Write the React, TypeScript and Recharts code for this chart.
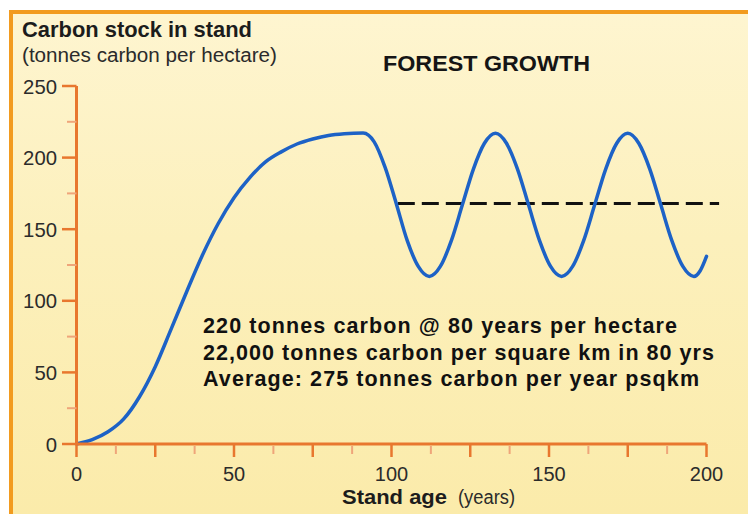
import React from 'react';
import { LineChart, Line, XAxis, YAxis, ReferenceLine } from 'recharts';

const ages = [0, 5, 10, 15, 20, 25, 30, 35, 40, 45, 50, 55, 60, 65, 70, 75, 80, 85,
  91, 94.5, 98, 101.5, 105, 108.5, 112,
  115.5, 119, 122.5, 126, 129.5, 133,
  136.5, 140, 143.5, 147, 150.5, 154,
  157.5, 161, 164.5, 168, 171.5, 175,
  178.5, 182, 185.5, 189, 192.5, 196,
  198, 200];
const carbon = [0, 3, 8.5, 17.5, 33, 54, 80, 106.5, 132, 154, 172, 186, 197, 204, 209.5, 213, 215.5, 216.7,
  217.2, 211, 193, 168, 142, 124, 117,
  124, 142, 167, 192, 210, 217,
  210, 192, 167, 142, 124, 117,
  124, 142, 167, 192, 210, 217,
  210, 192, 167, 142, 124, 117,
  121, 131];

const averageLevel = 168;
const averageStart = 102;
const averageEnd = 204;

const xTicks = [0, 12.5, 25, 37.5, 50, 62.5, 75, 87.5, 100, 112.5, 125, 137.5, 150, 162.5, 175, 187.5, 200];
const yTicks = [0, 25, 50, 75, 100, 125, 150, 175, 200, 225, 250];

const title = 'Carbon stock in stand';
const subtitle = '(tonnes carbon per hectare)';
const heading = 'FOREST GROWTH';
const notes = [
  '220 tonnes carbon @ 80 years per hectare',
  '22,000 tonnes carbon per square km in 80 yrs',
  'Average: 275 tonnes carbon per year psqkm',
];
const xTitleBold = 'Stand age';
const xTitleUnit = '(years)';

const data = ages.map((a, i) => ({ age: a, carbon: carbon[i] }));

const AXIS = '#E8772E';
const MINOR = '#EFA57A';
const FONT = '"Liberation Sans", Arial, Helvetica, sans-serif';

const YTick = (props: any) => {
  const { x, y, payload } = props;
  const v = payload.value;
  const major = v % 50 === 0;
  const digits = String(v).length;
  return (
    <g>
      <line x1={major ? x - 14.5 : x - 9.5} x2={x} y1={y} y2={y} stroke={major ? AXIS : MINOR} strokeWidth={major ? 2.5 : 2} />
      {major && (
        <text x={x - 19.5} y={y + 7.5} textAnchor="end" fontFamily={FONT} fontSize={21} fill="#2b2b2b"
          textLength={digits * 11.3} lengthAdjust="spacingAndGlyphs">{v}</text>
      )}
    </g>
  );
};

const XTick = (props: any) => {
  const { x, y, payload } = props;
  const v = payload.value;
  const labeled = v % 50 === 0;
  const mid = v % 25 === 0;
  return (
    <g>
      <line x1={x} x2={x} y1={mid ? y : y + 2} y2={mid ? y + 13 : y + 10} stroke={mid ? AXIS : MINOR} strokeWidth={mid ? 2.5 : 2} />
      {labeled && (
        <text x={x} y={y + 36.5} textAnchor="middle" fontFamily={FONT} fontSize={20} fill="#2b2b2b">{v}</text>
      )}
    </g>
  );
};

export default function App() {
  return (
    <div style={{ position: 'absolute', left: 0, top: 0, width: 748, height: 514, background: '#ffffff', overflow: 'hidden' }}>
      <div style={{
        position: 'absolute', left: 9, top: 10, width: 748 - 9, height: 514 - 10,
        boxSizing: 'border-box', borderLeft: '4px solid #F29B1F', borderTop: '4px solid #F29B1F',
        background: 'linear-gradient(to bottom, #FEF5D0 0%, #FCF0BC 45%, #FBEBAA 100%)',
      }} />
      <div style={{ position: 'absolute', left: 0, top: 0 }}>
        <LineChart width={748} height={514} data={data} margin={{ top: 86, right: 41.5, bottom: 0, left: 0 }}>
          <XAxis
            dataKey="age" type="number" domain={[0, 200]} ticks={xTicks} interval={0}
            height={70} tickSize={0} tickMargin={0} tickLine={false}
            axisLine={{ stroke: AXIS, strokeWidth: 3 }} tick={XTick}
          />
          <YAxis
            type="number" domain={[0, 250]} ticks={yTicks} interval={0}
            width={76.5} tickSize={0} tickMargin={0} tickLine={false}
            axisLine={{ stroke: AXIS, strokeWidth: 3 }} tick={YTick}
          />
          <ReferenceLine
            segment={[{ x: averageStart, y: averageLevel }, { x: averageEnd, y: averageLevel }]}
            ifOverflow="visible" stroke="#111111" strokeWidth={3} strokeDasharray="17 7"
          />
          <Line
            type="monotone" dataKey="carbon" stroke="#1D62C6" strokeWidth={3.5}
            dot={false} activeDot={false} isAnimationActive={false} strokeLinecap="round"
          />
        </LineChart>
      </div>
      <svg width={748} height={514} style={{ position: 'absolute', left: 0, top: 0, pointerEvents: 'none' }}>
        <text x={22} y={37} fontFamily={FONT} fontWeight="bold" fontSize={22} fill="#1c1c1c" textLength={230} lengthAdjust="spacingAndGlyphs">{title}</text>
        <text x={22} y={62} fontFamily={FONT} fontSize={20} fill="#2b2b2b" textLength={255} lengthAdjust="spacingAndGlyphs">{subtitle}</text>
        <text x={383} y={71} fontFamily={FONT} fontWeight="bold" fontSize={22} fill="#151515" textLength={207} lengthAdjust="spacingAndGlyphs">{heading}</text>
        <text x={203} y={333} fontFamily={FONT} fontWeight="bold" fontSize={21.5} fill="#111111" textLength={474} lengthAdjust="spacing">{notes[0]}</text>
        <text x={203} y={360} fontFamily={FONT} fontWeight="bold" fontSize={21.5} fill="#111111" textLength={511} lengthAdjust="spacing">{notes[1]}</text>
        <text x={203} y={386} fontFamily={FONT} fontWeight="bold" fontSize={21.5} fill="#111111" textLength={496} lengthAdjust="spacing">{notes[2]}</text>
        <text x={342} y={504} fontFamily={FONT} fontWeight="bold" fontSize={21} fill="#1c1c1c" textLength={105} lengthAdjust="spacingAndGlyphs">{xTitleBold}</text>
        <text x={458} y={504} fontFamily={FONT} fontSize={19.5} fill="#2b2b2b" textLength={57} lengthAdjust="spacingAndGlyphs">{xTitleUnit}</text>
      </svg>
    </div>
  );
}
